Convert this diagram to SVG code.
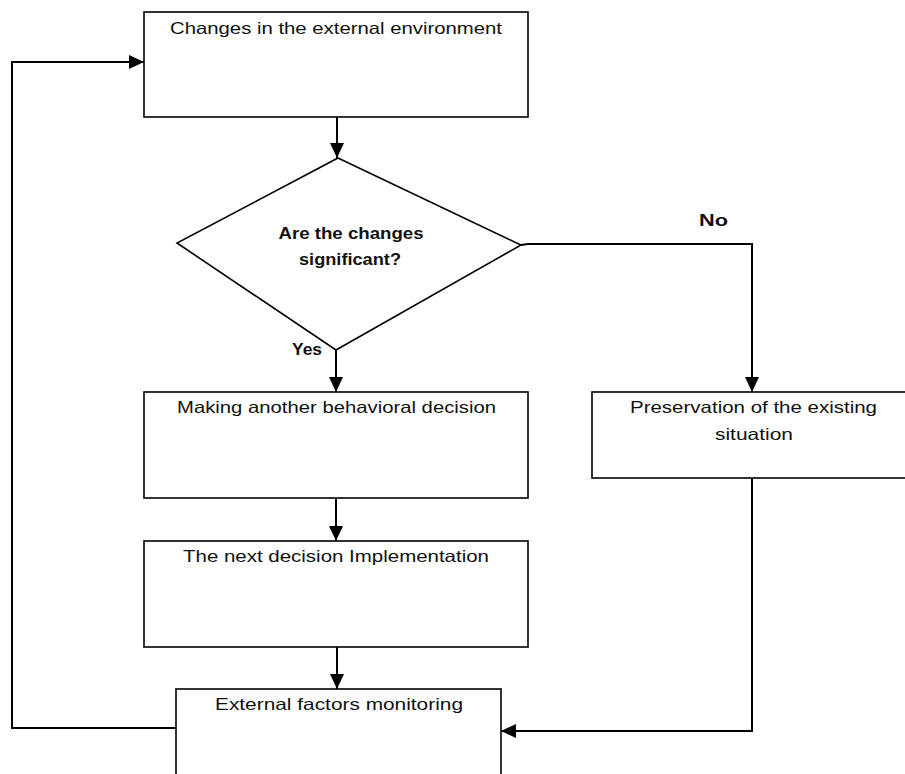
<svg xmlns="http://www.w3.org/2000/svg" width="905" height="774" viewBox="0 0 905 774">
<defs>
<marker id="ah" markerUnits="userSpaceOnUse" markerWidth="15" markerHeight="14" refX="15" refY="7" orient="auto">
<path d="M0,0 L15,7 L0,14 z" fill="#000"/>
</marker>
<style>
.box{fill:#fff;stroke:#000;stroke-width:1.6}
.t{font-family:"Liberation Sans",Arial,sans-serif;font-size:16.5px;fill:#111;text-anchor:middle}
.b{font-family:"Liberation Sans",Arial,sans-serif;font-size:17px;font-weight:bold;fill:#111}
.c{fill:none;stroke:#000;stroke-width:2}
</style>
</defs>
<rect width="905" height="774" fill="#fff"/>
<g id="connectors">
<path class="c" d="M337,117 V158" marker-end="url(#ah)"/>
<path class="c" d="M336,350 V392" marker-end="url(#ah)"/>
<path class="c" d="M521,245 L528,244 H752 V392" marker-end="url(#ah)"/>
<path class="c" d="M336,498 V541" marker-end="url(#ah)"/>
<path class="c" d="M337,647 V689" marker-end="url(#ah)"/>
<path class="c" d="M752,478 V731 H501" marker-end="url(#ah)"/>
<path class="c" d="M176,728 H12 V62 H144" marker-end="url(#ah)"/>
</g>
<g id="n1">
<rect class="box" x="144" y="12" width="384" height="105"/>
<text class="t" x="336" y="34" textLength="332" lengthAdjust="spacingAndGlyphs">Changes in the external environment</text>
</g>
<g id="n2">
<polygon points="338,158 521,245 336,350 177,243" fill="#fff" stroke="#000" stroke-width="1.6"/>
<text class="b" x="351" y="239" text-anchor="middle" textLength="145" lengthAdjust="spacingAndGlyphs">Are the changes</text>
<text class="b" x="350" y="265" text-anchor="middle" textLength="102" lengthAdjust="spacingAndGlyphs">significant?</text>
</g>
<g id="labels">
<text class="b" x="292" y="355" textLength="30" lengthAdjust="spacingAndGlyphs">Yes</text>
<text class="b" x="699" y="226" textLength="29" lengthAdjust="spacingAndGlyphs">No</text>
</g>
<g id="n3">
<rect class="box" x="144" y="392" width="384" height="106"/>
<text class="t" x="336.5" y="413" textLength="319" lengthAdjust="spacingAndGlyphs">Making another behavioral decision</text>
</g>
<g id="n4">
<rect class="box" x="592" y="392" width="330" height="86"/>
<text class="t" x="753.5" y="413" textLength="247" lengthAdjust="spacingAndGlyphs">Preservation of the existing</text>
<text class="t" x="754" y="440" textLength="78" lengthAdjust="spacingAndGlyphs">situation</text>
</g>
<g id="n5">
<rect class="box" x="144" y="541" width="384" height="106"/>
<text class="t" x="336" y="562" textLength="306" lengthAdjust="spacingAndGlyphs">The next decision Implementation</text>
</g>
<g id="n6">
<rect class="box" x="176" y="689" width="325" height="100"/>
<text class="t" x="339" y="710" textLength="248" lengthAdjust="spacingAndGlyphs">External factors monitoring</text>
</g>
</svg>
